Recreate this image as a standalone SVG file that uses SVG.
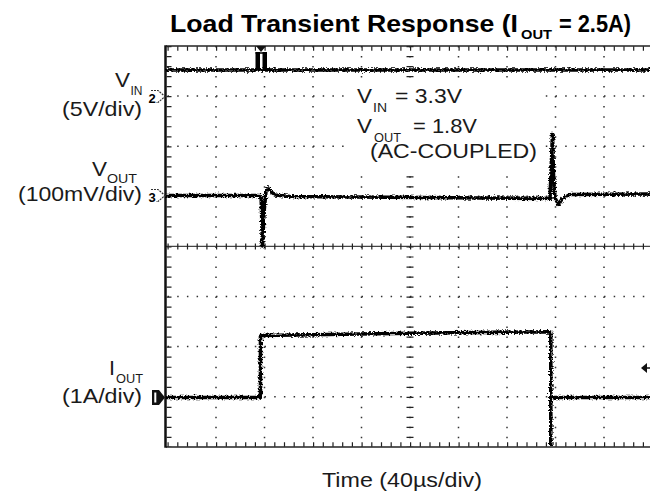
<svg xmlns="http://www.w3.org/2000/svg" width="650" height="493" viewBox="0 0 650 493">
<style>
.t{font-family:"Liberation Sans",Arial,Helvetica,sans-serif;fill:#1a1a1a;}
.b{font-weight:bold;fill:#000;}
.gd{stroke:#333;stroke-width:1.5;fill:none;}
.tk{stroke:#222;fill:none;}
.tr{stroke:#000;stroke-width:3.6;fill:none;stroke-linejoin:round;}
</style>
<defs>
<filter id="noise" filterUnits="userSpaceOnUse" x="0" y="0" width="650" height="493">
<feTurbulence type="fractalNoise" baseFrequency="0.55 0.7" numOctaves="2" seed="4" result="n"/>
<feDisplacementMap in="SourceGraphic" in2="n" scale="5" xChannelSelector="R" yChannelSelector="G"/>
</filter>
</defs>
<rect width="650" height="493" fill="#fff"/>

<g id="title">
<text class="t b" x="170" y="32" font-size="24" textLength="348" lengthAdjust="spacingAndGlyphs">Load Transient Response (I</text>
<text class="t b" x="521" y="39" font-size="13" textLength="31" lengthAdjust="spacingAndGlyphs">OUT</text>
<text class="t b" x="559" y="32" font-size="24" textLength="72" lengthAdjust="spacingAndGlyphs">= 2.5A)</text>
</g>

<g id="grid">
<g class="gd" stroke-dasharray="1.5 8.2">
<line x1="167.5" y1="96.1" x2="650" y2="96.1"/>
<line x1="167.5" y1="146.2" x2="650" y2="146.2"/>
<line x1="167.5" y1="196.3" x2="650" y2="196.3"/>
<line x1="167.5" y1="296.5" x2="650" y2="296.5"/>
<line x1="167.5" y1="346.6" x2="650" y2="346.6"/>
<line x1="167.5" y1="396.7" x2="650" y2="396.7"/>
</g>
<g class="gd" stroke-dasharray="1.5 8.52">
<line x1="216" y1="46" x2="216" y2="447"/>
<line x1="264.5" y1="46" x2="264.5" y2="447"/>
<line x1="313" y1="46" x2="313" y2="447"/>
<line x1="361.5" y1="46" x2="361.5" y2="447"/>
<line x1="458.5" y1="46" x2="458.5" y2="447"/>
<line x1="507" y1="46" x2="507" y2="447"/>
<line x1="555.5" y1="46" x2="555.5" y2="447"/>
<line x1="604" y1="46" x2="604" y2="447"/>
</g>
<line x1="166" y1="246.4" x2="650" y2="246.4" stroke="#444" stroke-width="1.3"/>
<line class="tk" x1="167.5" y1="246.4" x2="650" y2="246.4" stroke-width="6" stroke-dasharray="1.2 8.5"/>
<line class="tk" x1="410" y1="46" x2="410" y2="447" stroke-width="1.3" stroke-dasharray="1.5 8.52"/>
<line class="tk" x1="410" y1="46" x2="410" y2="447" stroke-width="7" stroke-dasharray="1.2 8.82"/>
<line x1="166" y1="46" x2="650" y2="46" stroke="#222" stroke-width="1.5"/>
<line x1="166" y1="447" x2="650" y2="447" stroke="#222" stroke-width="1.5"/>
<line x1="165.5" y1="45.3" x2="165.5" y2="447.7" stroke="#111" stroke-width="2.5"/>
<line class="tk" x1="167.5" y1="48.5" x2="650" y2="48.5" stroke-width="4.5" stroke-dasharray="1.2 8.5"/>
<line class="tk" x1="167.5" y1="444.5" x2="650" y2="444.5" stroke-width="4.5" stroke-dasharray="1.2 8.5"/>
<line class="tk" x1="169" y1="46" x2="169" y2="447" stroke-width="5" stroke-dasharray="1.2 8.82"/>
<rect x="348" y="82" width="197" height="86" fill="#fff"/>
</g>

<g id="markers">
<path d="M256,46 L266,46 L261,52 Z" fill="#111"/>
<rect x="255.5" y="52" width="4.5" height="18" fill="#000"/>
<rect x="262.5" y="52" width="4.5" height="18" fill="#000"/>
<line x1="255.5" y1="53" x2="267" y2="53" stroke="#000" stroke-width="1.5"/>
<text class="t b" x="148.5" y="103" font-size="13">2</text>
<path d="M151,90.5 H158 L165,96.5 L158,102.5 H156" fill="none" stroke="#333" stroke-width="1.2" stroke-dasharray="2 1"/>
<text class="t b" x="148.5" y="202" font-size="13">3</text>
<path d="M151,189.5 H158 L165,195.5 L158,201.5 H156" fill="none" stroke="#333" stroke-width="1.2" stroke-dasharray="2 1"/>
<path d="M152,390 H159 L165,397.5 L159,405 H152 Z" fill="#111"/>
<rect x="154.3" y="392.5" width="2" height="10" fill="#fff"/>
<path d="M641,368 L647,363 L647,373 Z" fill="#111"/>
<line x1="645" y1="368" x2="650" y2="368" stroke="#111" stroke-width="1.5"/>
</g>

<g id="traces" filter="url(#noise)">
<path class="tr" d="M166,70 H650"/>
<path class="tr" d="M166,195.5 L260,195.5 L261.2,198 L262.5,246 L264,212 L266,191 L268,188 L271,192 L276,195 L290,196.5 L420,197.5 L550,198.5 L551.5,160 L552.5,134.5 L553.5,176 L555,198 L558.5,204.5 L562,199 L570,194.5 L650,194"/>
<path class="tr" d="M166,397.5 H260.5 V336 L262,335.5 L410,333.2 L549,331.8 L550.8,332.5 V446"/>
<path class="tr" d="M551,397.5 H650"/>
</g>

<g id="labels">
<text class="t" x="115" y="86.7" font-size="21" textLength="15" lengthAdjust="spacingAndGlyphs">V</text>
<text class="t" x="130.5" y="95" font-size="12" textLength="12" lengthAdjust="spacingAndGlyphs">IN</text>
<text class="t" x="62" y="115.5" font-size="21" textLength="80" lengthAdjust="spacingAndGlyphs">(5V/div)</text>
<text class="t" x="92" y="176" font-size="21" textLength="15" lengthAdjust="spacingAndGlyphs">V</text>
<text class="t" x="107" y="182.5" font-size="12" textLength="30" lengthAdjust="spacingAndGlyphs">OUT</text>
<text class="t" x="18" y="201" font-size="21" textLength="124" lengthAdjust="spacingAndGlyphs">(100mV/div)</text>
<text class="t" x="109" y="375" font-size="21" textLength="6" lengthAdjust="spacingAndGlyphs">I</text>
<text class="t" x="116" y="382.5" font-size="12" textLength="27" lengthAdjust="spacingAndGlyphs">OUT</text>
<text class="t" x="62" y="403" font-size="21" textLength="80" lengthAdjust="spacingAndGlyphs">(1A/div)</text>

<text class="t" x="357" y="103" font-size="21" textLength="15" lengthAdjust="spacingAndGlyphs">V</text>
<text class="t" x="373" y="111.5" font-size="12" textLength="14" lengthAdjust="spacingAndGlyphs">IN</text>
<text class="t" x="395" y="103" font-size="21" textLength="67" lengthAdjust="spacingAndGlyphs">= 3.3V</text>
<text class="t" x="357" y="133" font-size="21" textLength="15" lengthAdjust="spacingAndGlyphs">V</text>
<text class="t" x="374" y="141.5" font-size="12" textLength="27" lengthAdjust="spacingAndGlyphs">OUT</text>
<text class="t" x="413" y="133" font-size="21" textLength="64" lengthAdjust="spacingAndGlyphs">= 1.8V</text>
<text class="t" x="370" y="158" font-size="21" textLength="167" lengthAdjust="spacingAndGlyphs">(AC-COUPLED)</text>

<text class="t" x="322" y="487" font-size="21" textLength="160" lengthAdjust="spacingAndGlyphs">Time (40µs/div)</text>
</g>
</svg>
